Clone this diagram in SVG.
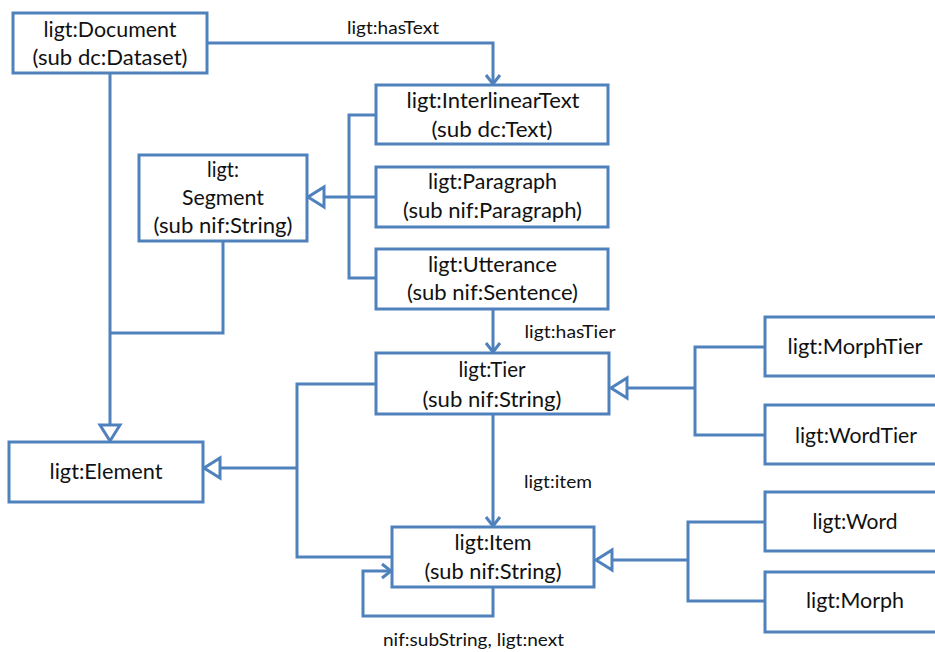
<svg xmlns="http://www.w3.org/2000/svg" width="935" height="652" viewBox="0 0 935 652">
<style>
.box{fill:#fff;stroke:#4F81BD;stroke-width:3}
.ln{fill:none;stroke:#4F81BD;stroke-width:3}
.t{font-family:Lato,"Liberation Sans",sans-serif;font-size:21px;fill:#111;text-anchor:middle}
.lb{font-family:Lato,"Liberation Sans",sans-serif;font-size:17.5px;fill:#111;text-anchor:middle}
</style>
<defs>
<marker id="tri" markerUnits="userSpaceOnUse" viewBox="-3 -3 22 26" markerWidth="22" markerHeight="26" refX="16" refY="10" orient="auto">
<path d="M0,0 L16,10 L0,20 Z" fill="#fff" stroke="#4F81BD" stroke-width="3"/>
</marker>
<marker id="vee" markerUnits="userSpaceOnUse" viewBox="-3 -3 16 20" markerWidth="16" markerHeight="20" refX="9" refY="7" orient="auto">
<path d="M0,0 L9,7 L0,14" fill="none" stroke="#4F81BD" stroke-width="3"/>
</marker>
</defs>
<rect width="935" height="652" fill="#fff"/>
<g id="connectors">
<path class="ln" d="M207,43 H493 V84" marker-end="url(#vee)"/>
<path class="ln" d="M110,73 V441" marker-end="url(#tri)"/>
<path class="ln" d="M223,241 V333 H110"/>
<path class="ln" d="M376,115 H349 V278 H376"/>
<path class="ln" d="M376,197 H308" marker-end="url(#tri)"/>
<path class="ln" d="M493,309 V352" marker-end="url(#vee)"/>
<path class="ln" d="M493,414 V526" marker-end="url(#vee)"/>
<path class="ln" d="M376,384 H297 V557 H392"/>
<path class="ln" d="M297,468 H204" marker-end="url(#tri)"/>
<path class="ln" d="M765,347 H695 V435 H765"/>
<path class="ln" d="M695,388 H611" marker-end="url(#tri)"/>
<path class="ln" d="M765,522 H688 V601 H765"/>
<path class="ln" d="M688,560 H596" marker-end="url(#tri)"/>
<path class="ln" d="M493,587 V616 H363 V571 H391" marker-end="url(#vee)"/>
<text class="lb" x="393" y="34" textLength="92" lengthAdjust="spacingAndGlyphs">ligt:hasText</text>
<text class="lb" x="570" y="338" textLength="91" lengthAdjust="spacingAndGlyphs">ligt:hasTier</text>
<text class="lb" x="558" y="488" textLength="68" lengthAdjust="spacingAndGlyphs">ligt:item</text>
<text class="lb" x="473.5" y="646" textLength="181" lengthAdjust="spacingAndGlyphs">nif:subString, ligt:next</text>
</g>
<g id="document">
<rect class="box" x="13" y="13" width="194" height="60"/>
<text class="t" x="110" y="37" textLength="133" lengthAdjust="spacingAndGlyphs">ligt:Document</text>
<text class="t" x="110" y="65" textLength="155" lengthAdjust="spacingAndGlyphs">(sub dc:Dataset)</text>
</g>
<g id="interlineartext">
<rect class="box" x="376" y="85" width="232" height="59"/>
<text class="t" x="493" y="108" textLength="173" lengthAdjust="spacingAndGlyphs">ligt:InterlinearText</text>
<text class="t" x="492" y="137" textLength="121" lengthAdjust="spacingAndGlyphs">(sub dc:Text)</text>
</g>
<g id="segment">
<rect class="box" x="139" y="155" width="168" height="86"/>
<text class="t" x="223" y="177" textLength="32" lengthAdjust="spacingAndGlyphs">ligt:</text>
<text class="t" x="223" y="205" textLength="82" lengthAdjust="spacingAndGlyphs">Segment</text>
<text class="t" x="223" y="233" textLength="139" lengthAdjust="spacingAndGlyphs">(sub nif:String)</text>
</g>
<g id="paragraph">
<rect class="box" x="376" y="167" width="232" height="60"/>
<text class="t" x="492.5" y="189" textLength="129" lengthAdjust="spacingAndGlyphs">ligt:Paragraph</text>
<text class="t" x="492.5" y="218" textLength="179" lengthAdjust="spacingAndGlyphs">(sub nif:Paragraph)</text>
</g>
<g id="utterance">
<rect class="box" x="376" y="249" width="232" height="60"/>
<text class="t" x="492.5" y="272" textLength="129" lengthAdjust="spacingAndGlyphs">ligt:Utterance</text>
<text class="t" x="492.5" y="300" textLength="171" lengthAdjust="spacingAndGlyphs">(sub nif:Sentence)</text>
</g>
<g id="tier">
<rect class="box" x="376" y="353" width="233" height="61"/>
<text class="t" x="492" y="377" textLength="67" lengthAdjust="spacingAndGlyphs">ligt:Tier</text>
<text class="t" x="492" y="407" textLength="139" lengthAdjust="spacingAndGlyphs">(sub nif:String)</text>
</g>
<g id="element">
<rect class="box" x="9" y="442" width="194" height="60"/>
<text class="t" x="106" y="479" textLength="113" lengthAdjust="spacingAndGlyphs">ligt:Element</text>
</g>
<g id="item">
<rect class="box" x="392" y="527" width="202" height="60"/>
<text class="t" x="493" y="550" textLength="77" lengthAdjust="spacingAndGlyphs">ligt:Item</text>
<text class="t" x="493" y="579" textLength="137" lengthAdjust="spacingAndGlyphs">(sub nif:String)</text>
</g>
<g id="morphtier">
<rect class="box" x="765" y="317" width="185" height="59"/>
<text class="t" x="855" y="354" textLength="135" lengthAdjust="spacingAndGlyphs">ligt:MorphTier</text>
</g>
<g id="wordtier">
<rect class="box" x="765" y="405" width="185" height="59"/>
<text class="t" x="856" y="443" textLength="122" lengthAdjust="spacingAndGlyphs">ligt:WordTier</text>
</g>
<g id="word">
<rect class="box" x="765" y="492" width="185" height="59"/>
<text class="t" x="855" y="529" textLength="85" lengthAdjust="spacingAndGlyphs">ligt:Word</text>
</g>
<g id="morph">
<rect class="box" x="765" y="572" width="185" height="60"/>
<text class="t" x="855" y="608" textLength="98" lengthAdjust="spacingAndGlyphs">ligt:Morph</text>
</g>
</svg>
